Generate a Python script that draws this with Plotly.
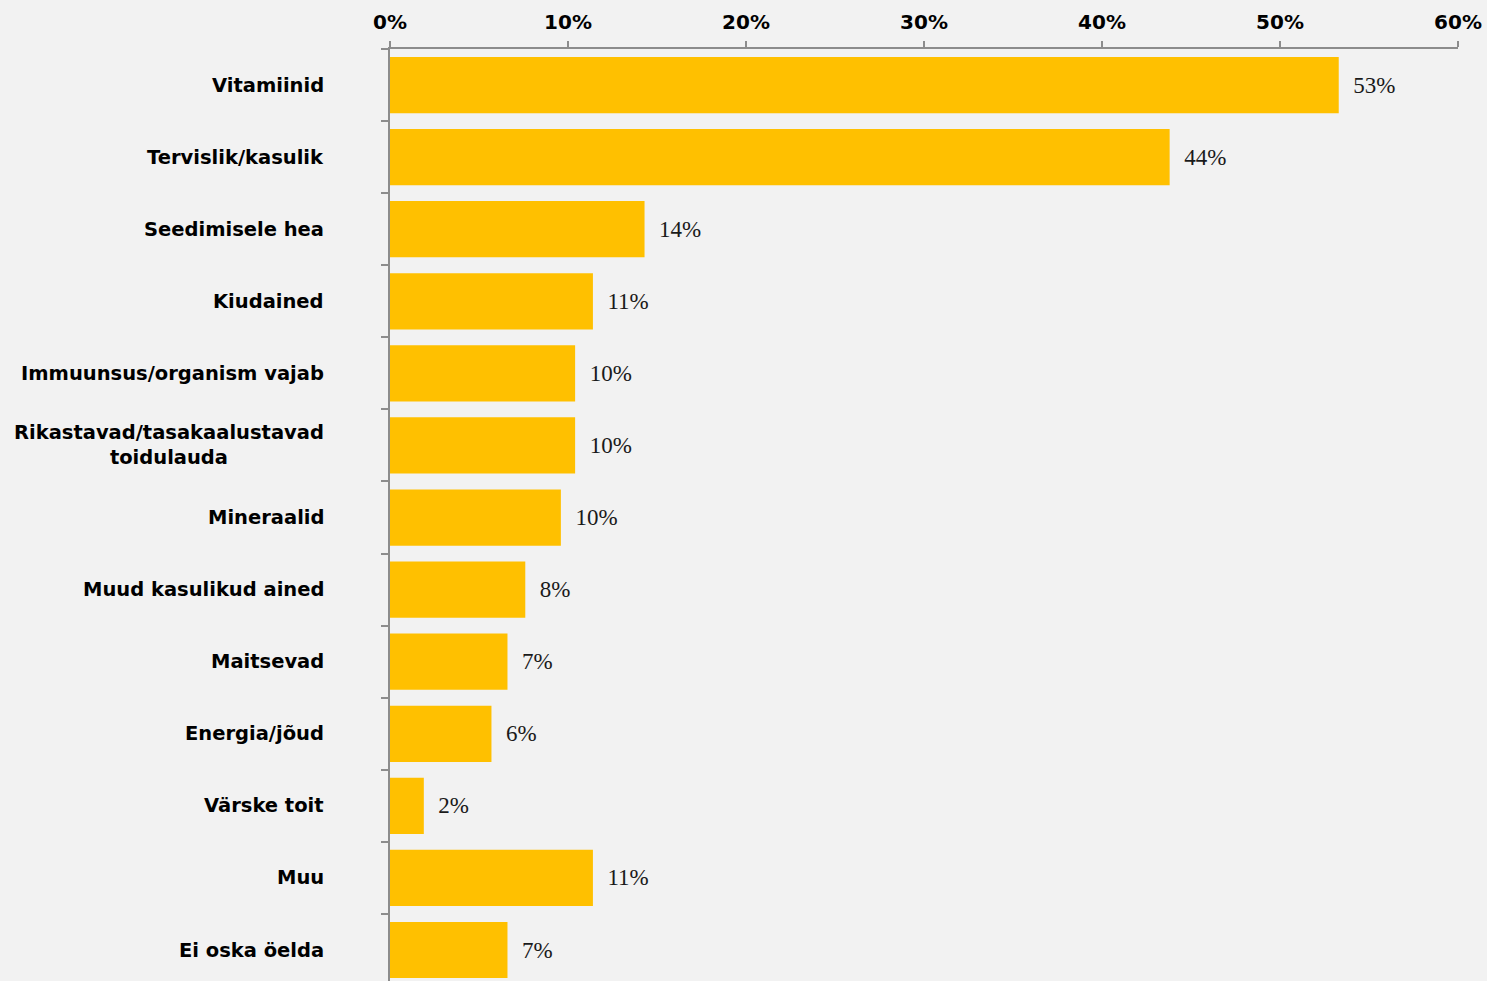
import plotly.graph_objects as go

# Reasons given (share of respondents), top to bottom
categories = [
    "Vitamiinid",
    "Tervislik/kasulik",
    "Seedimisele hea",
    "Kiudained",
    "Immuunsus/organism vajab",
    "Rikastavad/tasakaalustavad<br>toidulauda",
    "Mineraalid",
    "Muud kasulikud ained",
    "Maitsevad",
    "Energia/jõud",
    "Värske toit",
    "Muu",
    "Ei oska öelda",
]
shares = [0.533, 0.438, 0.143, 0.114, 0.104, 0.104, 0.096, 0.076, 0.066, 0.057, 0.019, 0.114, 0.066]
x_ticks = [0, 0.1, 0.2, 0.3, 0.4, 0.5, 0.6]

BAR = "#FFC000"
BG = "#F2F2F2"
AXIS = "#8C8C8C"

fig = go.Figure()
fig.add_trace(go.Bar(
    x=shares,
    y=categories,
    orientation="h",
    marker=dict(color=BAR, line=dict(width=0)),
    texttemplate="\u00a0\u00a0%{x:.0%}",
    textposition="outside",
    cliponaxis=False,
    textfont=dict(family="Liberation Serif", size=23, color="#1a1a1a"),
    hoverinfo="skip",
))

# Category labels, centred line by line
for cat in categories:
    fig.add_annotation(
        x=0, xref="paper", y=cat, yref="y",
        text="<b>" + cat + "</b>",
        showarrow=False, xanchor="right", yanchor="middle", align="center",
        xshift=-64,
        font=dict(family="DejaVu Sans", size=19.5, color="#000000"),
    )

fig.update_layout(
    width=1487, height=981,
    margin=dict(l=390, r=29, t=49, b=0),
    paper_bgcolor=BG, plot_bgcolor=BG,
    bargap=0.22,
    showlegend=False,
    xaxis=dict(
        side="top", range=[0, 0.6], tickvals=x_ticks, tickformat=".0%",
        showgrid=False, zeroline=False,
        showline=True, linecolor=AXIS, linewidth=1.5,
        ticks="outside", ticklen=6, tickcolor=AXIS, tickwidth=1.5,
        ticklabelstandoff=4,
        tickfont=dict(family="DejaVu Sans", size=20, color="#000000", weight="bold"),
    ),
    yaxis=dict(
        type="category", categoryorder="array", categoryarray=categories,
        range=[12.43, -0.5],
        showticklabels=False, showgrid=False, zeroline=False,
        showline=True, linecolor=AXIS, linewidth=1.5,
        ticks="outside", ticklen=7, tickcolor=AXIS, tickwidth=1.5,
        tickson="boundaries",
    ),
)

fig.write_html("out.html")
